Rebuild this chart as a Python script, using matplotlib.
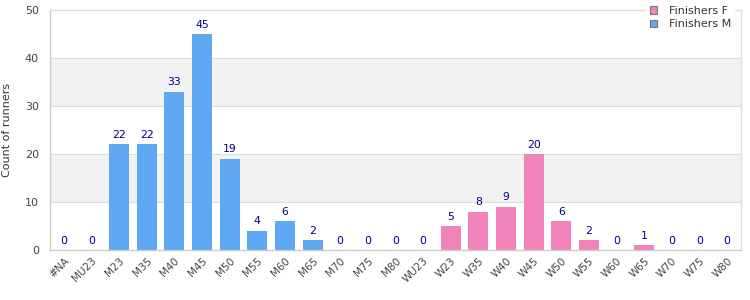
import matplotlib
matplotlib.use("Agg")
import matplotlib.pyplot as plt
from matplotlib.patches import Patch

m_categories = ["#NA", "MU23", "M23", "M35", "M40", "M45", "M50", "M55", "M60", "M65", "M70", "M75", "M80"]
m_counts = [0, 0, 22, 22, 33, 45, 19, 4, 6, 2, 0, 0, 0]
f_categories = ["WU23", "W23", "W35", "W40", "W45", "W50", "W55", "W60", "W65", "W70", "W75", "W80"]
f_counts = [0, 5, 8, 9, 20, 6, 2, 0, 1, 0, 0, 0]
y_ticks = [0, 10, 20, 30, 40, 50]

blue = "#5ea8f2"
pink = "#f283ba"
label_color = "#00007f"

fig = plt.figure(figsize=(7.5, 3), dpi=100)
ax = fig.add_axes([50/750, 50/300, 691/750, 240/300])

categories = m_categories + f_categories
xm = list(range(len(m_categories)))
xf = list(range(len(m_categories), len(categories)))

# alternating bands
for i in range(len(y_ticks) - 1):
    if i % 2 == 1:
        ax.axhspan(y_ticks[i], y_ticks[i + 1], color="#f2f2f2", zorder=0, lw=0)
for t in y_ticks[1:-1]:
    ax.axhline(t, color="#dddddd", lw=0.8, zorder=0.5)

bw = 0.72
ax.bar(xm, m_counts, width=bw, color=blue, zorder=2)
ax.bar(xf, f_counts, width=bw, color=pink, zorder=2)
for x, v in zip(xm + xf, m_counts + f_counts):
    ax.text(x, v + 0.9, str(v), ha="center", va="bottom", fontsize=7.8, color=label_color, zorder=3)

ax.set_xlim(-0.5, len(categories) - 0.5)
ax.set_ylim(0, 50)
ax.set_yticks(y_ticks)
ax.set_xticks(range(len(categories)))
ax.set_xticklabels(categories, rotation=45, ha="right", rotation_mode="anchor", fontsize=7.5, color="#444444")
ax.tick_params(axis="y", labelsize=8, colors="#444444", length=0, pad=8)
ax.tick_params(axis="x", length=0, pad=4)
ax.set_ylabel("Count of runners", fontsize=8, color="#333333", labelpad=9)
for s in ax.spines.values():
    s.set_color("#dddddd")
    s.set_linewidth(1)
ax.spines["left"].set_color("#cccccc")
ax.spines["bottom"].set_color("#cccccc")

handles = [Patch(facecolor=pink, edgecolor="#777777", lw=0.8, label="Finishers F"),
           Patch(facecolor=blue, edgecolor="#777777", lw=0.8, label="Finishers M")]
leg = fig.legend(handles=handles, loc="upper right", bbox_to_anchor=(0.987, 1.01), fontsize=8,
                 frameon=True, fancybox=False, edgecolor="none", facecolor="white", framealpha=1,
                 handlelength=0.65, handleheight=0.65, handletextpad=1.1, labelspacing=0.3, borderpad=0.3)
for t in leg.get_texts():
    t.set_color("#333333")

fig.savefig("out.png", dpi=100)
